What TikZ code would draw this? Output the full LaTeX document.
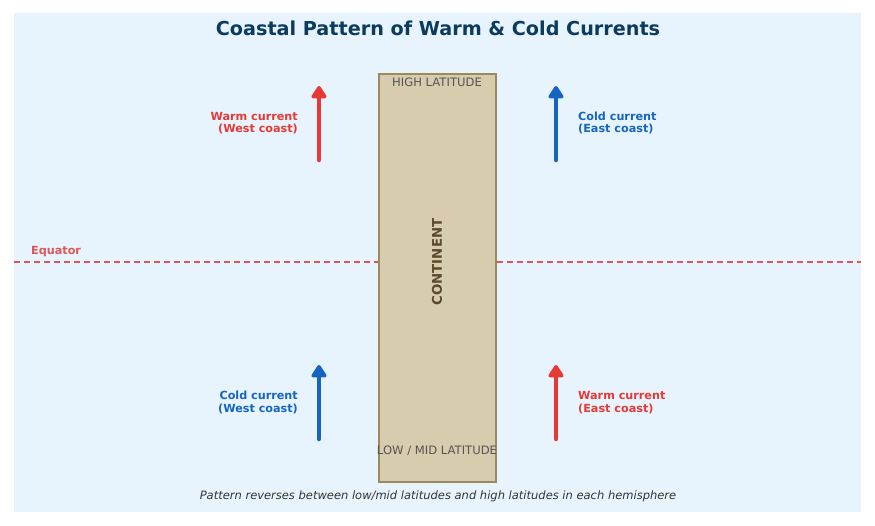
\documentclass[tikz,border=0pt]{standalone}
\usepackage{fontspec}
\setmainfont{DejaVu Sans}
\usetikzlibrary{arrows.meta}
\definecolor{bgblue}{HTML}{E8F4FD}
\definecolor{titleblue}{HTML}{0B3C5D}
\definecolor{landfill}{HTML}{D8CCAE}
\definecolor{landdraw}{HTML}{9A8A5E}
\definecolor{landtext}{HTML}{5A4A2A}
\definecolor{warmred}{HTML}{E53935}
\definecolor{coldblue}{HTML}{1565C0}
\definecolor{eqred}{HTML}{E05555}
\definecolor{graytext}{HTML}{555555}
\definecolor{foottext}{HTML}{333333}
\tikzset{
  current/.style={line width=4.5pt, line cap=round, -{Triangle[width=17pt,length=14pt,round]}},
  lbl/.style={font=\fontsize{11.2}{12.5}\selectfont\bfseries, inner sep=0pt},
  lattext/.style={font=\fontsize{11.6}{13}\selectfont, text=graytext, inner sep=0pt},
}
\begin{document}
\begin{tikzpicture}[x=1pt,y=-1pt]
\useasboundingbox (0,0) rectangle (875,525);
\fill[white] (0,0) rectangle (875,525);
\fill[bgblue] (14,13) rectangle (861,512);
\node[font=\fontsize{19.2}{21}\selectfont\bfseries, text=titleblue] (title) at (438,28) {Coastal Pattern of Warm \& Cold Currents};
% equator
\coordinate (eqL) at (14,262);
\coordinate (eqR) at (861,262);
\node[draw=landdraw, line width=2pt, fill=landfill, minimum width=117pt, minimum height=408pt, inner sep=0pt] (land) at (437,277.5) {};
\draw[eqred, line width=1.3pt, dash pattern=on 6pt off 4pt] (eqL) -- (land.west |- eqL);
\draw[eqred, line width=1.3pt, dash pattern=on 6pt off 4pt] (land.east |- eqR) -- (eqR);
\node[lbl, text=eqred, anchor=west] (eq) at (31,252) {Equator};
\node[lattext] (high) at (437,82) {HIGH LATITUDE};
\node[lattext] (low) at (437,451) {LOW / MID LATITUDE};
\node[font=\fontsize{13.3}{15}\selectfont\bfseries, text=landtext, rotate=90] (cont) at (437,262) {CONTINENT};
% arrows
\coordinate (a1s) at (319,160); \coordinate (a1e) at (319,86);
\coordinate (a2s) at (556,160); \coordinate (a2e) at (556,86);
\coordinate (a3s) at (319,439); \coordinate (a3e) at (319,365);
\coordinate (a4s) at (556,439); \coordinate (a4e) at (556,365);
\draw[current, warmred] (a1s) -- (a1e);
\draw[current, coldblue] (a2s) -- (a2e);
\draw[current, coldblue] (a3s) -- (a3e);
\draw[current, warmred] (a4s) -- (a4e);
\node[lbl, text=warmred, align=right, anchor=east] (w1) at (298,123) {Warm current\\(West coast)};
\node[lbl, text=coldblue, align=left, anchor=west] (c1) at (578,123) {Cold current\\(East coast)};
\node[lbl, text=coldblue, align=right, anchor=east] (c2) at (298,402.5) {Cold current\\(West coast)};
\node[lbl, text=warmred, align=left, anchor=west] (w2) at (578,402.5) {Warm current\\(East coast)};
\node[font=\fontsize{11.5}{13}\selectfont\itshape, text=foottext] (foot) at (438,496) {Pattern reverses between low/mid latitudes and high latitudes in each hemisphere};
\end{tikzpicture}
\end{document}
